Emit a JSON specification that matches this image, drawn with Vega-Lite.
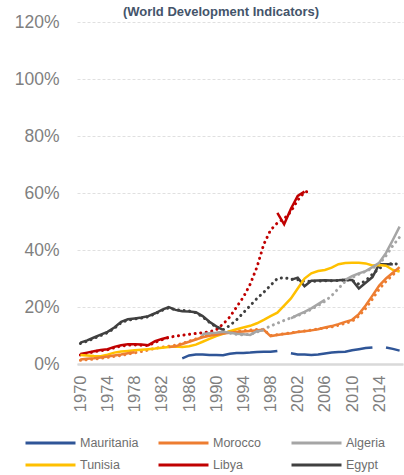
{
"$schema": "https://vega.github.io/schema/vega-lite/v6.json",
"width": 326, "height": 342,
"autosize": {"type": "none"},
"padding": {"left": 77, "top": 22, "right": 1, "bottom": 111},
"background": "white",
"config": {"view": {"stroke": null}, "font": "Liberation Sans"},
"title": {"text": "(World Development Indicators)", "font": "Liberation Sans", "fontSize": 13, "fontWeight": "bold", "color": "#44546A", "anchor": "middle", "dx": -19, "offset": -16, "baseline": "alphabetic"},
"data": {"values": [
{"c":"Egypt","s":"solid","p":1,"year":1970,"value":7.5},{"c":"Egypt","s":"solid","p":1,"year":1971,"value":8.3},{"c":"Egypt","s":"solid","p":1,"year":1972,"value":9.3},{"c":"Egypt","s":"solid","p":1,"year":1973,"value":10.3},{"c":"Egypt","s":"solid","p":1,"year":1974,"value":11.3},{"c":"Egypt","s":"solid","p":1,"year":1975,"value":12.8},{"c":"Egypt","s":"solid","p":1,"year":1976,"value":14.8},{"c":"Egypt","s":"solid","p":1,"year":1977,"value":15.7},{"c":"Egypt","s":"solid","p":1,"year":1978,"value":16.0},{"c":"Egypt","s":"solid","p":1,"year":1979,"value":16.3},{"c":"Egypt","s":"solid","p":1,"year":1980,"value":16.8},{"c":"Egypt","s":"solid","p":1,"year":1981,"value":17.8},{"c":"Egypt","s":"solid","p":1,"year":1982,"value":19.0},{"c":"Egypt","s":"solid","p":1,"year":1983,"value":20.0},{"c":"Egypt","s":"solid","p":1,"year":1984,"value":19.0},{"c":"Egypt","s":"solid","p":1,"year":1985,"value":18.5},{"c":"Egypt","s":"solid","p":1,"year":1986,"value":18.4},{"c":"Egypt","s":"solid","p":1,"year":1987,"value":18.2},{"c":"Egypt","s":"solid","p":1,"year":1988,"value":16.8},{"c":"Egypt","s":"solid","p":1,"year":1989,"value":14.8},{"c":"Egypt","s":"solid","p":1,"year":1990,"value":13.2},{"c":"Egypt","s":"solid","p":1,"year":1991,"value":12.0},
{"c":"Egypt","s":"solid","p":2,"year":2001,"value":29.5},{"c":"Egypt","s":"solid","p":2,"year":2002,"value":30.3},{"c":"Egypt","s":"solid","p":2,"year":2003,"value":27.3},{"c":"Egypt","s":"solid","p":2,"year":2004,"value":29.2},{"c":"Egypt","s":"solid","p":2,"year":2005,"value":29.3},{"c":"Egypt","s":"solid","p":2,"year":2006,"value":29.4},{"c":"Egypt","s":"solid","p":2,"year":2007,"value":29.3},{"c":"Egypt","s":"solid","p":2,"year":2008,"value":29.4},{"c":"Egypt","s":"solid","p":2,"year":2009,"value":29.6},{"c":"Egypt","s":"solid","p":2,"year":2010,"value":29.5},{"c":"Egypt","s":"solid","p":2,"year":2011,"value":26.5},{"c":"Egypt","s":"solid","p":2,"year":2012,"value":28.5},{"c":"Egypt","s":"solid","p":2,"year":2013,"value":30.5},{"c":"Egypt","s":"solid","p":2,"year":2014,"value":35.0},{"c":"Egypt","s":"solid","p":2,"year":2015,"value":35.0},{"c":"Egypt","s":"solid","p":2,"year":2016,"value":35.0},
{"c":"Egypt","s":"dotted","p":1,"year":1970,"value":7.2},{"c":"Egypt","s":"dotted","p":1,"year":1971,"value":8.0},{"c":"Egypt","s":"dotted","p":1,"year":1972,"value":9.0},{"c":"Egypt","s":"dotted","p":1,"year":1973,"value":10.0},{"c":"Egypt","s":"dotted","p":1,"year":1974,"value":11.0},{"c":"Egypt","s":"dotted","p":1,"year":1975,"value":12.5},{"c":"Egypt","s":"dotted","p":1,"year":1976,"value":14.5},{"c":"Egypt","s":"dotted","p":1,"year":1977,"value":15.4},{"c":"Egypt","s":"dotted","p":1,"year":1978,"value":15.8},{"c":"Egypt","s":"dotted","p":1,"year":1979,"value":16.1},{"c":"Egypt","s":"dotted","p":1,"year":1980,"value":16.6},{"c":"Egypt","s":"dotted","p":1,"year":1981,"value":17.6},{"c":"Egypt","s":"dotted","p":1,"year":1982,"value":18.8},{"c":"Egypt","s":"dotted","p":1,"year":1983,"value":19.7},{"c":"Egypt","s":"dotted","p":1,"year":1984,"value":19.0},{"c":"Egypt","s":"dotted","p":1,"year":1985,"value":18.8},{"c":"Egypt","s":"dotted","p":1,"year":1986,"value":18.6},{"c":"Egypt","s":"dotted","p":1,"year":1987,"value":18.0},{"c":"Egypt","s":"dotted","p":1,"year":1988,"value":16.5},{"c":"Egypt","s":"dotted","p":1,"year":1989,"value":14.6},{"c":"Egypt","s":"dotted","p":1,"year":1990,"value":13.0},{"c":"Egypt","s":"dotted","p":1,"year":1991,"value":12.0},{"c":"Egypt","s":"dotted","p":1,"year":1992,"value":13.5},{"c":"Egypt","s":"dotted","p":1,"year":1993,"value":15.5},{"c":"Egypt","s":"dotted","p":1,"year":1994,"value":18.0},{"c":"Egypt","s":"dotted","p":1,"year":1995,"value":20.5},{"c":"Egypt","s":"dotted","p":1,"year":1996,"value":23.0},{"c":"Egypt","s":"dotted","p":1,"year":1997,"value":25.2},{"c":"Egypt","s":"dotted","p":1,"year":1998,"value":27.6},{"c":"Egypt","s":"dotted","p":1,"year":1999,"value":30.0},{"c":"Egypt","s":"dotted","p":1,"year":2000,"value":30.3},{"c":"Egypt","s":"dotted","p":1,"year":2001,"value":29.8},{"c":"Egypt","s":"dotted","p":1,"year":2002,"value":29.6},{"c":"Egypt","s":"dotted","p":1,"year":2003,"value":29.0},{"c":"Egypt","s":"dotted","p":1,"year":2004,"value":29.0},{"c":"Egypt","s":"dotted","p":1,"year":2005,"value":29.1},{"c":"Egypt","s":"dotted","p":1,"year":2006,"value":29.2},{"c":"Egypt","s":"dotted","p":1,"year":2007,"value":29.2},{"c":"Egypt","s":"dotted","p":1,"year":2008,"value":29.3},{"c":"Egypt","s":"dotted","p":1,"year":2009,"value":29.5},{"c":"Egypt","s":"dotted","p":1,"year":2010,"value":29.4},{"c":"Egypt","s":"dotted","p":1,"year":2011,"value":28.0},{"c":"Egypt","s":"dotted","p":1,"year":2012,"value":29.2},{"c":"Egypt","s":"dotted","p":1,"year":2013,"value":31.5},{"c":"Egypt","s":"dotted","p":1,"year":2014,"value":33.5},{"c":"Egypt","s":"dotted","p":1,"year":2015,"value":35.0},{"c":"Egypt","s":"dotted","p":1,"year":2016,"value":35.2},{"c":"Egypt","s":"dotted","p":1,"year":2017,"value":35.0},
{"c":"Libya","s":"solid","p":1,"year":1970,"value":3.5},{"c":"Libya","s":"solid","p":1,"year":1971,"value":4.0},{"c":"Libya","s":"solid","p":1,"year":1972,"value":4.5},{"c":"Libya","s":"solid","p":1,"year":1973,"value":4.9},{"c":"Libya","s":"solid","p":1,"year":1974,"value":5.2},{"c":"Libya","s":"solid","p":1,"year":1975,"value":6.0},{"c":"Libya","s":"solid","p":1,"year":1976,"value":6.6},{"c":"Libya","s":"solid","p":1,"year":1977,"value":6.9},{"c":"Libya","s":"solid","p":1,"year":1978,"value":6.9},{"c":"Libya","s":"solid","p":1,"year":1979,"value":6.8},{"c":"Libya","s":"solid","p":1,"year":1980,"value":6.6},{"c":"Libya","s":"solid","p":1,"year":1981,"value":8.0},{"c":"Libya","s":"solid","p":1,"year":1982,"value":8.8},{"c":"Libya","s":"solid","p":1,"year":1983,"value":9.4},
{"c":"Libya","s":"solid","p":2,"year":1999,"value":53.0},{"c":"Libya","s":"solid","p":2,"year":2000,"value":49.0},{"c":"Libya","s":"solid","p":2,"year":2001,"value":54.5},{"c":"Libya","s":"solid","p":2,"year":2002,"value":59.0},{"c":"Libya","s":"solid","p":2,"year":2003,"value":60.5},
{"c":"Libya","s":"dotted","p":1,"year":1970,"value":3.2},{"c":"Libya","s":"dotted","p":1,"year":1971,"value":3.7},{"c":"Libya","s":"dotted","p":1,"year":1972,"value":4.3},{"c":"Libya","s":"dotted","p":1,"year":1973,"value":4.7},{"c":"Libya","s":"dotted","p":1,"year":1974,"value":5.0},{"c":"Libya","s":"dotted","p":1,"year":1975,"value":5.7},{"c":"Libya","s":"dotted","p":1,"year":1976,"value":6.3},{"c":"Libya","s":"dotted","p":1,"year":1977,"value":6.6},{"c":"Libya","s":"dotted","p":1,"year":1978,"value":6.7},{"c":"Libya","s":"dotted","p":1,"year":1979,"value":6.6},{"c":"Libya","s":"dotted","p":1,"year":1980,"value":6.5},{"c":"Libya","s":"dotted","p":1,"year":1981,"value":7.6},{"c":"Libya","s":"dotted","p":1,"year":1982,"value":8.5},{"c":"Libya","s":"dotted","p":1,"year":1983,"value":9.3},{"c":"Libya","s":"dotted","p":1,"year":1984,"value":9.8},{"c":"Libya","s":"dotted","p":1,"year":1985,"value":10.1},{"c":"Libya","s":"dotted","p":1,"year":1986,"value":10.4},{"c":"Libya","s":"dotted","p":1,"year":1987,"value":10.7},{"c":"Libya","s":"dotted","p":1,"year":1988,"value":11.0},{"c":"Libya","s":"dotted","p":1,"year":1989,"value":11.3},{"c":"Libya","s":"dotted","p":1,"year":1990,"value":12.0},{"c":"Libya","s":"dotted","p":1,"year":1991,"value":14.0},{"c":"Libya","s":"dotted","p":1,"year":1992,"value":16.5},{"c":"Libya","s":"dotted","p":1,"year":1993,"value":20.0},{"c":"Libya","s":"dotted","p":1,"year":1994,"value":23.5},{"c":"Libya","s":"dotted","p":1,"year":1995,"value":28.0},{"c":"Libya","s":"dotted","p":1,"year":1996,"value":34.0},{"c":"Libya","s":"dotted","p":1,"year":1997,"value":42.0},{"c":"Libya","s":"dotted","p":1,"year":1998,"value":47.0},{"c":"Libya","s":"dotted","p":1,"year":1999,"value":49.5},{"c":"Libya","s":"dotted","p":1,"year":2000,"value":51.0},{"c":"Libya","s":"dotted","p":1,"year":2001,"value":53.5},{"c":"Libya","s":"dotted","p":1,"year":2002,"value":57.5},{"c":"Libya","s":"dotted","p":1,"year":2003,"value":60.3},{"c":"Libya","s":"dotted","p":1,"year":2004,"value":60.8},
{"c":"Tunisia","s":"solid","p":1,"year":1970,"value":3.2},{"c":"Tunisia","s":"solid","p":1,"year":1971,"value":3.0},{"c":"Tunisia","s":"solid","p":1,"year":1972,"value":2.8},{"c":"Tunisia","s":"solid","p":1,"year":1973,"value":2.7},{"c":"Tunisia","s":"solid","p":1,"year":1974,"value":3.3},{"c":"Tunisia","s":"solid","p":1,"year":1975,"value":4.0},{"c":"Tunisia","s":"solid","p":1,"year":1976,"value":4.4},{"c":"Tunisia","s":"solid","p":1,"year":1977,"value":4.6},{"c":"Tunisia","s":"solid","p":1,"year":1978,"value":4.8},{"c":"Tunisia","s":"solid","p":1,"year":1979,"value":5.0},{"c":"Tunisia","s":"solid","p":1,"year":1980,"value":5.2},{"c":"Tunisia","s":"solid","p":1,"year":1981,"value":5.4},{"c":"Tunisia","s":"solid","p":1,"year":1982,"value":5.7},{"c":"Tunisia","s":"solid","p":1,"year":1983,"value":6.0},{"c":"Tunisia","s":"solid","p":1,"year":1984,"value":6.1},{"c":"Tunisia","s":"solid","p":1,"year":1985,"value":6.0},{"c":"Tunisia","s":"solid","p":1,"year":1986,"value":6.2},{"c":"Tunisia","s":"solid","p":1,"year":1987,"value":6.8},{"c":"Tunisia","s":"solid","p":1,"year":1988,"value":7.8},{"c":"Tunisia","s":"solid","p":1,"year":1989,"value":8.8},{"c":"Tunisia","s":"solid","p":1,"year":1990,"value":9.8},{"c":"Tunisia","s":"solid","p":1,"year":1991,"value":10.6},{"c":"Tunisia","s":"solid","p":1,"year":1992,"value":11.5},{"c":"Tunisia","s":"solid","p":1,"year":1993,"value":12.2},{"c":"Tunisia","s":"solid","p":1,"year":1994,"value":12.8},{"c":"Tunisia","s":"solid","p":1,"year":1995,"value":13.4},{"c":"Tunisia","s":"solid","p":1,"year":1996,"value":14.3},{"c":"Tunisia","s":"solid","p":1,"year":1997,"value":15.5},{"c":"Tunisia","s":"solid","p":1,"year":1998,"value":16.8},{"c":"Tunisia","s":"solid","p":1,"year":1999,"value":18.0},{"c":"Tunisia","s":"solid","p":1,"year":2000,"value":20.5},{"c":"Tunisia","s":"solid","p":1,"year":2001,"value":23.0},{"c":"Tunisia","s":"solid","p":1,"year":2002,"value":26.5},{"c":"Tunisia","s":"solid","p":1,"year":2003,"value":30.0},{"c":"Tunisia","s":"solid","p":1,"year":2004,"value":31.8},{"c":"Tunisia","s":"solid","p":1,"year":2005,"value":32.6},{"c":"Tunisia","s":"solid","p":1,"year":2006,"value":33.0},{"c":"Tunisia","s":"solid","p":1,"year":2007,"value":33.8},{"c":"Tunisia","s":"solid","p":1,"year":2008,"value":35.0},{"c":"Tunisia","s":"solid","p":1,"year":2009,"value":35.4},{"c":"Tunisia","s":"solid","p":1,"year":2010,"value":35.5},{"c":"Tunisia","s":"solid","p":1,"year":2011,"value":35.5},{"c":"Tunisia","s":"solid","p":1,"year":2012,"value":35.3},{"c":"Tunisia","s":"solid","p":1,"year":2013,"value":34.6},{"c":"Tunisia","s":"solid","p":1,"year":2014,"value":34.7},{"c":"Tunisia","s":"solid","p":1,"year":2015,"value":34.5},{"c":"Tunisia","s":"solid","p":1,"year":2016,"value":33.0},{"c":"Tunisia","s":"solid","p":1,"year":2017,"value":32.4},
{"c":"Morocco","s":"solid","p":1,"year":1970,"value":1.6},{"c":"Morocco","s":"solid","p":1,"year":1971,"value":1.8},{"c":"Morocco","s":"solid","p":1,"year":1972,"value":2.0},{"c":"Morocco","s":"solid","p":1,"year":1973,"value":2.3},{"c":"Morocco","s":"solid","p":1,"year":1974,"value":2.6},{"c":"Morocco","s":"solid","p":1,"year":1975,"value":3.0},{"c":"Morocco","s":"solid","p":1,"year":1976,"value":3.3},{"c":"Morocco","s":"solid","p":1,"year":1977,"value":3.8},{"c":"Morocco","s":"solid","p":1,"year":1978,"value":4.1},
{"c":"Morocco","s":"solid","p":2,"year":1983,"value":6.0},{"c":"Morocco","s":"solid","p":2,"year":1984,"value":6.2},{"c":"Morocco","s":"solid","p":2,"year":1985,"value":7.0},{"c":"Morocco","s":"solid","p":2,"year":1986,"value":7.8},{"c":"Morocco","s":"solid","p":2,"year":1987,"value":8.6},{"c":"Morocco","s":"solid","p":2,"year":1988,"value":9.4},{"c":"Morocco","s":"solid","p":2,"year":1989,"value":9.9},{"c":"Morocco","s":"solid","p":2,"year":1990,"value":10.3},{"c":"Morocco","s":"solid","p":2,"year":1991,"value":10.7},{"c":"Morocco","s":"solid","p":2,"year":1992,"value":11.0},{"c":"Morocco","s":"solid","p":2,"year":1993,"value":11.2},{"c":"Morocco","s":"solid","p":2,"year":1994,"value":11.4},{"c":"Morocco","s":"solid","p":2,"year":1995,"value":11.6},{"c":"Morocco","s":"solid","p":2,"year":1996,"value":11.8},{"c":"Morocco","s":"solid","p":2,"year":1997,"value":12.0},{"c":"Morocco","s":"solid","p":2,"year":1998,"value":9.8},{"c":"Morocco","s":"solid","p":2,"year":1999,"value":10.2},{"c":"Morocco","s":"solid","p":2,"year":2000,"value":10.5},{"c":"Morocco","s":"solid","p":2,"year":2001,"value":10.8},{"c":"Morocco","s":"solid","p":2,"year":2002,"value":11.2},{"c":"Morocco","s":"solid","p":2,"year":2003,"value":11.5},{"c":"Morocco","s":"solid","p":2,"year":2004,"value":11.8},{"c":"Morocco","s":"solid","p":2,"year":2005,"value":12.2},{"c":"Morocco","s":"solid","p":2,"year":2006,"value":12.8},{"c":"Morocco","s":"solid","p":2,"year":2007,"value":13.3},{"c":"Morocco","s":"solid","p":2,"year":2008,"value":14.0},{"c":"Morocco","s":"solid","p":2,"year":2009,"value":14.8},{"c":"Morocco","s":"solid","p":2,"year":2010,"value":15.5},{"c":"Morocco","s":"solid","p":2,"year":2011,"value":17.5},{"c":"Morocco","s":"solid","p":2,"year":2012,"value":20.5},{"c":"Morocco","s":"solid","p":2,"year":2013,"value":24.0},{"c":"Morocco","s":"solid","p":2,"year":2014,"value":27.5},{"c":"Morocco","s":"solid","p":2,"year":2015,"value":30.0},{"c":"Morocco","s":"solid","p":2,"year":2016,"value":32.0},{"c":"Morocco","s":"solid","p":2,"year":2017,"value":34.0},
{"c":"Morocco","s":"dotted","p":1,"year":1970,"value":1.3},{"c":"Morocco","s":"dotted","p":1,"year":1971,"value":1.5},{"c":"Morocco","s":"dotted","p":1,"year":1972,"value":1.7},{"c":"Morocco","s":"dotted","p":1,"year":1973,"value":2.0},{"c":"Morocco","s":"dotted","p":1,"year":1974,"value":2.3},{"c":"Morocco","s":"dotted","p":1,"year":1975,"value":2.7},{"c":"Morocco","s":"dotted","p":1,"year":1976,"value":3.0},{"c":"Morocco","s":"dotted","p":1,"year":1977,"value":3.5},{"c":"Morocco","s":"dotted","p":1,"year":1978,"value":3.9},{"c":"Morocco","s":"dotted","p":1,"year":1979,"value":4.4},{"c":"Morocco","s":"dotted","p":1,"year":1980,"value":4.9},{"c":"Morocco","s":"dotted","p":1,"year":1981,"value":5.5},{"c":"Morocco","s":"dotted","p":1,"year":1982,"value":5.9},{"c":"Morocco","s":"dotted","p":1,"year":1983,"value":6.2},{"c":"Morocco","s":"dotted","p":1,"year":1984,"value":6.6},{"c":"Morocco","s":"dotted","p":1,"year":1985,"value":7.2},{"c":"Morocco","s":"dotted","p":1,"year":1986,"value":8.0},{"c":"Morocco","s":"dotted","p":1,"year":1987,"value":8.8},{"c":"Morocco","s":"dotted","p":1,"year":1988,"value":9.6},{"c":"Morocco","s":"dotted","p":1,"year":1989,"value":10.2},{"c":"Morocco","s":"dotted","p":1,"year":1990,"value":10.7},{"c":"Morocco","s":"dotted","p":1,"year":1991,"value":11.0},{"c":"Morocco","s":"dotted","p":1,"year":1992,"value":11.3},{"c":"Morocco","s":"dotted","p":1,"year":1993,"value":11.5},{"c":"Morocco","s":"dotted","p":1,"year":1994,"value":11.7},{"c":"Morocco","s":"dotted","p":1,"year":1995,"value":11.9},{"c":"Morocco","s":"dotted","p":1,"year":1996,"value":12.1},{"c":"Morocco","s":"dotted","p":1,"year":1997,"value":12.0},{"c":"Morocco","s":"dotted","p":1,"year":1998,"value":10.0},{"c":"Morocco","s":"dotted","p":1,"year":1999,"value":10.3},{"c":"Morocco","s":"dotted","p":1,"year":2000,"value":10.6},{"c":"Morocco","s":"dotted","p":1,"year":2001,"value":10.9},{"c":"Morocco","s":"dotted","p":1,"year":2002,"value":11.3},{"c":"Morocco","s":"dotted","p":1,"year":2003,"value":11.6},{"c":"Morocco","s":"dotted","p":1,"year":2004,"value":11.9},{"c":"Morocco","s":"dotted","p":1,"year":2005,"value":12.3},{"c":"Morocco","s":"dotted","p":1,"year":2006,"value":12.6},{"c":"Morocco","s":"dotted","p":1,"year":2007,"value":13.0},{"c":"Morocco","s":"dotted","p":1,"year":2008,"value":13.6},{"c":"Morocco","s":"dotted","p":1,"year":2009,"value":14.3},{"c":"Morocco","s":"dotted","p":1,"year":2010,"value":15.0},{"c":"Morocco","s":"dotted","p":1,"year":2011,"value":16.8},{"c":"Morocco","s":"dotted","p":1,"year":2012,"value":19.5},{"c":"Morocco","s":"dotted","p":1,"year":2013,"value":22.8},{"c":"Morocco","s":"dotted","p":1,"year":2014,"value":26.3},{"c":"Morocco","s":"dotted","p":1,"year":2015,"value":29.0},{"c":"Morocco","s":"dotted","p":1,"year":2016,"value":31.3},{"c":"Morocco","s":"dotted","p":1,"year":2017,"value":33.2},
{"c":"Algeria","s":"solid","p":1,"year":1988,"value":10.5},{"c":"Algeria","s":"solid","p":1,"year":1989,"value":10.8},{"c":"Algeria","s":"solid","p":1,"year":1990,"value":11.0},{"c":"Algeria","s":"solid","p":1,"year":1991,"value":11.3},{"c":"Algeria","s":"solid","p":1,"year":1992,"value":11.0},{"c":"Algeria","s":"solid","p":1,"year":1993,"value":10.6},{"c":"Algeria","s":"solid","p":1,"year":1994,"value":10.4},{"c":"Algeria","s":"solid","p":1,"year":1995,"value":10.2},{"c":"Algeria","s":"solid","p":1,"year":1996,"value":11.5},{"c":"Algeria","s":"solid","p":1,"year":1997,"value":11.8},
{"c":"Algeria","s":"solid","p":2,"year":2001,"value":16.0},{"c":"Algeria","s":"solid","p":2,"year":2002,"value":17.2},{"c":"Algeria","s":"solid","p":2,"year":2003,"value":18.3},{"c":"Algeria","s":"solid","p":2,"year":2004,"value":19.5},{"c":"Algeria","s":"solid","p":2,"year":2005,"value":21.0},{"c":"Algeria","s":"solid","p":2,"year":2006,"value":22.5},
{"c":"Algeria","s":"solid","p":3,"year":2009,"value":29.5},{"c":"Algeria","s":"solid","p":3,"year":2010,"value":30.8},{"c":"Algeria","s":"solid","p":3,"year":2011,"value":31.8},{"c":"Algeria","s":"solid","p":3,"year":2012,"value":32.6},{"c":"Algeria","s":"solid","p":3,"year":2013,"value":34.0},{"c":"Algeria","s":"solid","p":3,"year":2014,"value":35.5},{"c":"Algeria","s":"solid","p":3,"year":2015,"value":39.0},{"c":"Algeria","s":"solid","p":3,"year":2016,"value":43.5},{"c":"Algeria","s":"solid","p":3,"year":2017,"value":48.2},
{"c":"Algeria","s":"dotted","p":1,"year":1988,"value":10.2},{"c":"Algeria","s":"dotted","p":1,"year":1989,"value":10.5},{"c":"Algeria","s":"dotted","p":1,"year":1990,"value":10.8},{"c":"Algeria","s":"dotted","p":1,"year":1991,"value":11.0},{"c":"Algeria","s":"dotted","p":1,"year":1992,"value":10.8},{"c":"Algeria","s":"dotted","p":1,"year":1993,"value":10.4},{"c":"Algeria","s":"dotted","p":1,"year":1994,"value":10.2},{"c":"Algeria","s":"dotted","p":1,"year":1995,"value":10.4},{"c":"Algeria","s":"dotted","p":1,"year":1996,"value":11.2},{"c":"Algeria","s":"dotted","p":1,"year":1997,"value":12.3},{"c":"Algeria","s":"dotted","p":1,"year":1998,"value":13.3},{"c":"Algeria","s":"dotted","p":1,"year":1999,"value":14.3},{"c":"Algeria","s":"dotted","p":1,"year":2000,"value":15.3},{"c":"Algeria","s":"dotted","p":1,"year":2001,"value":16.2},{"c":"Algeria","s":"dotted","p":1,"year":2002,"value":17.0},{"c":"Algeria","s":"dotted","p":1,"year":2003,"value":18.0},{"c":"Algeria","s":"dotted","p":1,"year":2004,"value":19.2},{"c":"Algeria","s":"dotted","p":1,"year":2005,"value":20.5},{"c":"Algeria","s":"dotted","p":1,"year":2006,"value":22.0},{"c":"Algeria","s":"dotted","p":1,"year":2007,"value":24.0},{"c":"Algeria","s":"dotted","p":1,"year":2008,"value":26.5},{"c":"Algeria","s":"dotted","p":1,"year":2009,"value":29.0},{"c":"Algeria","s":"dotted","p":1,"year":2010,"value":30.3},{"c":"Algeria","s":"dotted","p":1,"year":2011,"value":31.5},{"c":"Algeria","s":"dotted","p":1,"year":2012,"value":32.5},{"c":"Algeria","s":"dotted","p":1,"year":2013,"value":33.6},{"c":"Algeria","s":"dotted","p":1,"year":2014,"value":35.0},{"c":"Algeria","s":"dotted","p":1,"year":2015,"value":38.0},{"c":"Algeria","s":"dotted","p":1,"year":2016,"value":41.5},{"c":"Algeria","s":"dotted","p":1,"year":2017,"value":44.5},
{"c":"Mauritania","s":"solid","p":1,"year":1985,"value":2.0},{"c":"Mauritania","s":"solid","p":1,"year":1986,"value":3.0},{"c":"Mauritania","s":"solid","p":1,"year":1987,"value":3.3},{"c":"Mauritania","s":"solid","p":1,"year":1988,"value":3.3},{"c":"Mauritania","s":"solid","p":1,"year":1989,"value":3.2},{"c":"Mauritania","s":"solid","p":1,"year":1990,"value":3.2},{"c":"Mauritania","s":"solid","p":1,"year":1991,"value":3.1},{"c":"Mauritania","s":"solid","p":1,"year":1992,"value":3.6},{"c":"Mauritania","s":"solid","p":1,"year":1993,"value":3.9},{"c":"Mauritania","s":"solid","p":1,"year":1994,"value":3.9},{"c":"Mauritania","s":"solid","p":1,"year":1995,"value":4.0},{"c":"Mauritania","s":"solid","p":1,"year":1996,"value":4.2},{"c":"Mauritania","s":"solid","p":1,"year":1997,"value":4.3},{"c":"Mauritania","s":"solid","p":1,"year":1998,"value":4.3},{"c":"Mauritania","s":"solid","p":1,"year":1999,"value":4.6},
{"c":"Mauritania","s":"solid","p":2,"year":2001,"value":3.8},{"c":"Mauritania","s":"solid","p":2,"year":2002,"value":3.3},{"c":"Mauritania","s":"solid","p":2,"year":2003,"value":3.3},{"c":"Mauritania","s":"solid","p":2,"year":2004,"value":3.2},{"c":"Mauritania","s":"solid","p":2,"year":2005,"value":3.3},{"c":"Mauritania","s":"solid","p":2,"year":2006,"value":3.7},{"c":"Mauritania","s":"solid","p":2,"year":2007,"value":4.0},{"c":"Mauritania","s":"solid","p":2,"year":2008,"value":4.2},{"c":"Mauritania","s":"solid","p":2,"year":2009,"value":4.3},{"c":"Mauritania","s":"solid","p":2,"year":2010,"value":4.8},{"c":"Mauritania","s":"solid","p":2,"year":2011,"value":5.2},{"c":"Mauritania","s":"solid","p":2,"year":2012,"value":5.6},{"c":"Mauritania","s":"solid","p":2,"year":2013,"value":5.8},
{"c":"Mauritania","s":"solid","p":3,"year":2015,"value":5.8},{"c":"Mauritania","s":"solid","p":3,"year":2016,"value":5.3},{"c":"Mauritania","s":"solid","p":3,"year":2017,"value":4.7}
]},
"encoding": {
  "x": {"field": "year", "type": "quantitative", "scale": {"domain": [1969.5, 2017.5], "nice": false, "zero": false},
        "axis": {"values": [1970,1974,1978,1982,1986,1990,1994,1998,2002,2006,2010,2014], "format": "d", "labelAngle": -90, "labelAlign": "right", "labelBaseline": "middle", "labelFont": "Liberation Sans", "labelFontSize": 16.5, "labelColor": "#7f7f7f", "ticks": false, "grid": false, "domainColor": "#d9d9d9", "domainWidth": 2.5, "labelPadding": 11, "title": null}},
  "y": {"field": "value", "type": "quantitative", "scale": {"domain": [0, 120], "nice": false},
        "axis": {"values": [0,20,40,60,80,100,120], "labelExpr": "datum.value + '%'", "labelFont": "Liberation Sans", "labelFontSize": 17.5, "labelColor": "#7f7f7f", "ticks": false, "domain": false, "gridColor": "#e0e0e0", "gridDash": [3,2], "labelPadding": 18, "title": null}},
  "color": {"field": "c", "type": "nominal",
        "scale": {"domain": ["Mauritania","Morocco","Algeria","Tunisia","Libya","Egypt"], "range": ["#2F5597","#ED7D31","#A5A5A5","#FFC000","#C00000","#404040"]},
        "legend": {"orient": "none", "legendX": -53, "legendY": 413, "direction": "horizontal", "columns": 3, "gridAlign": "all", "columnPadding": 18, "rowPadding": 6, "clipHeight": 16, "symbolType": "stroke", "symbolSize": 2500, "symbolStrokeWidth": 3, "symbolDash": [1, 0], "labelFont": "Liberation Sans", "labelFontSize": 12.5, "labelColor": "#6e6e6e", "labelOffset": 3, "title": null, "padding": 0}},
  "detail": {"field": "p"}
},
"layer": [
  {"transform": [{"filter": "datum.s == 'dotted'"}], "mark": {"type": "line", "strokeWidth": 3, "strokeDash": [0.1, 5.5], "strokeCap": "round"}},
  {"transform": [{"filter": "datum.s == 'solid'"}], "mark": {"type": "line", "strokeWidth": 2.5}}
]
}
